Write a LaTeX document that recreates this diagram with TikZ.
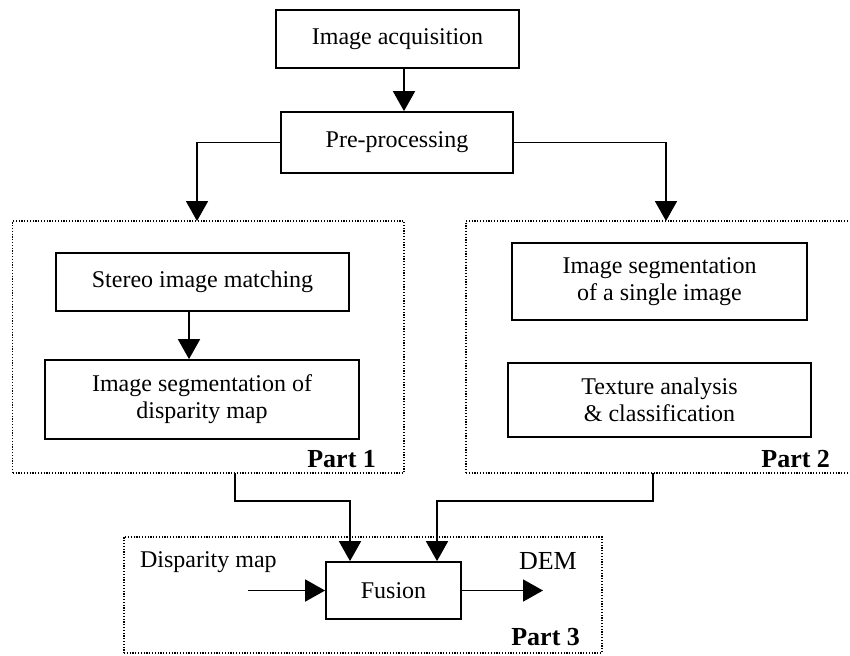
\documentclass[tikz,border=0pt]{standalone}
\usepackage{fontspec}
\setmainfont{Liberation Serif}
\usepackage{tikz}
\usetikzlibrary{arrows.meta,positioning,fit,calc}

\begin{document}
\begin{tikzpicture}[
		x=0.5pt, y=-0.5pt,
		>={Triangle[length=10pt,width=11pt]},
		every node/.style={font=\fontsize{12}{13.5}\selectfont},
		box/.style={draw, line width=0.9pt, align=center, inner sep=0pt},
		partbox/.style={draw, line width=0.6pt, dash pattern=on 0.6pt off 0.8pt, inner sep=0pt},
		partlabel/.style={font=\fontsize{13}{15}\selectfont\bfseries, anchor=base east},
		link/.style={->, line width=0.9pt}
		]
		\useasboundingbox (0,0) rectangle (850,655);
		
		\node[box, minimum width=121.5pt, minimum height=29pt] (acq) at (397.5,39) {Image acquisition};
		\node[box, minimum width=116pt, minimum height=30.5pt] (pre) at (397,142.5) {Pre-processing};
		\node[box, minimum width=146.5pt, minimum height=29pt] (stereo) at (202.5,282) {Stereo image matching};
		\node[box, minimum width=157pt, minimum height=39.5pt] (segdisp) at (202,399.5) {Image segmentation of\\disparity map};
		\node[box, minimum width=147.5pt, minimum height=38.5pt] (segsingle) at (659.5,281.5) {Image segmentation\\of a single image};
		\node[box, minimum width=151.5pt, minimum height=37pt] (texture) at (659.5,400) {Texture analysis\\\& classification};
		\node[box, minimum width=67.5pt, minimum height=28.5pt] (fusion) at (393.5,590.5) {Fusion};
		
		\node[partbox, fit={(12.7,221) (404,473)}] (part1) {};
		\node[partbox, fit={(466,221) (853,473)}] (part2) {};
		\node[partbox, fit={(124,537) (602,653)}] (part3) {};
		\node[partlabel] (lbl1) at (383,467) {Part 1};
		\node[partlabel] (lbl2) at (837,467) {Part 2};
		\node[partlabel] (lbl3) at (587,645) {Part 3};
		
		\node[anchor=base west] (dispin) at (133,567) {Disparity map};
		\node[anchor=base west, font=\fontsize{13}{15}\selectfont] (dem) at (512,569) {DEM};
		
		\coordinate (p1in) at (197,221);
		\coordinate (p2in) at (666,221);
		\coordinate (p1out) at (235,473);
		\coordinate (p2out) at (653,473);
		\coordinate (inbeg) at (248,590.5);
		\coordinate (outend) at (543,590.5);
		
		\draw[link] ($(acq.south)+(6.5,0)$) -- ($(pre.north)+(7,0)$);
		\draw[link] (pre.west) -| (p1in);
		\draw[link] (pre.east) -| (p2in);
		\draw[link] ($(stereo.south)+(-13.5,0)$) -- ($(segdisp.north)+(-13,0)$);
		\draw[link] (p1out) -- ++(0,28) -| ($(fusion.north)+(-43.5,0)$);
		\draw[link] (p2out) -- ++(0,28) -| ($(fusion.north)+(43.5,0)$);
		\draw[link] (inbeg) -- (fusion.west);
		\draw[link] (fusion.east) -- (outend);
		
	\end{tikzpicture}
\end{document}
